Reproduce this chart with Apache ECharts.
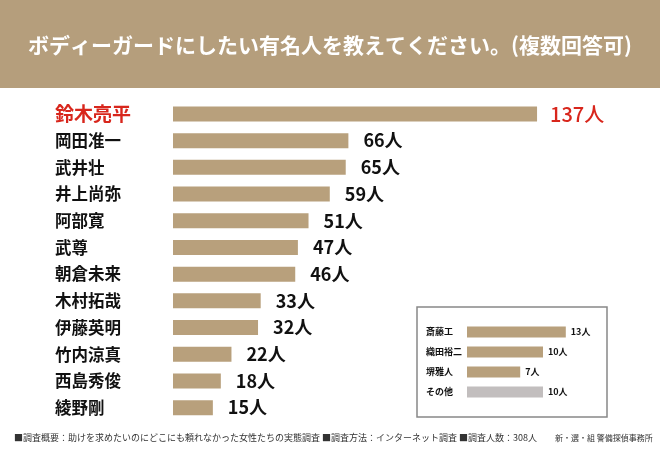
<!DOCTYPE html>
<html>
<head>
<meta charset="utf-8">
<script src="https://cdn.jsdelivr.net/npm/echarts@6/dist/echarts.min.js"></script>
<style>html,body{margin:0;padding:0;background:#fff}#c{width:660px;height:450px}</style>
</head>
<body>
<div id="c"></div>
<script>
var names = ['鈴木亮平','岡田准一','武井壮','井上尚弥','阿部寛','武尊','朝倉未来','木村拓哉','伊藤英明','竹内涼真','西島秀俊','綾野剛'];
var counts = [137,66,65,59,51,47,46,33,32,22,18,15];
var otherNames = ['斎藤工','織田裕二','堺雅人','その他'];
var otherCounts = [13,10,7,10];
var titleText = 'ボディーガードにしたい有名人を教えてください。(複数回答可)';
var footLeft = '■調査概要：助けを求めたいのにどこにも頼れなかった女性たちの実態調査 ■調査方法：インターネット調査 ■調査人数：308人';
var footRight = '新・選・組 警備探偵事務所';

var FONT = '"Noto Sans CJK JP", "Noto Sans", sans-serif';
var TAN = '#b8a07c';
var RED = '#d8261c';

var chart = echarts.init(document.getElementById('c'));
chart.setOption({
  backgroundColor: '#fff',
  animation: false,
  textStyle: { fontFamily: FONT },
  title: {
    text: titleText, left: 'center', top: 30,
    textStyle: { color: '#fff', fontSize: 21, fontWeight: 'bold', fontFamily: FONT }
  },
  graphic: [
    { type: 'rect', z: -10, shape: { x: 0, y: 0, width: 660, height: 88 }, style: { fill: '#b59e7c' } },
    { type: 'rect', shape: { x: 417, y: 307, width: 190, height: 110 }, style: { fill: 'none', stroke: '#888', lineWidth: 1.5 } },
    { type: 'text', x: 14, y: 438, style: { text: footLeft, fontSize: 9, fill: '#333', fontFamily: FONT, verticalAlign: 'middle' } },
    { type: 'text', x: 555, y: 438, style: { text: footRight, fontSize: 8, fill: '#333', fontFamily: FONT, verticalAlign: 'middle' } }
  ],
  grid: [
    { left: 173, top: 100.6, width: 398.6, height: 320.4 },
    { left: 467, top: 322, width: 152, height: 80 }
  ],
  xAxis: [
    { gridIndex: 0, type: 'value', min: 0, max: 150, show: false },
    { gridIndex: 1, type: 'value', min: 0, max: 20, show: false }
  ],
  yAxis: [
    {
      gridIndex: 0, type: 'category', data: names, inverse: true,
      axisLine: { show: false }, axisTick: { show: false },
      axisLabel: {
        align: 'left', margin: 118,
        formatter: function (v, i) { return i === 0 ? '{r|' + v + '}' : '{n|' + v + '}'; },
        rich: {
          r: { color: RED, fontSize: 19, fontWeight: 'bold', fontFamily: FONT },
          n: { color: '#111', fontSize: 16.5, fontWeight: 'bold', fontFamily: FONT }
        }
      }
    },
    {
      gridIndex: 1, type: 'category', data: otherNames, inverse: true,
      axisLine: { show: false }, axisTick: { show: false },
      axisLabel: { align: 'left', margin: 41, color: '#111', fontSize: 9, fontWeight: 'bold', fontFamily: FONT }
    }
  ],
  series: [
    {
      type: 'bar', xAxisIndex: 0, yAxisIndex: 0, barWidth: 15,
      data: counts.map(function (v, i) {
        var d = { value: v, itemStyle: { color: TAN } };
        if (i === 0) d.label = { color: RED, fontSize: 20, fontWeight: 500, distance: 13 };
        return d;
      }),
      label: {
        show: true, position: 'right', distance: 15, formatter: '{c}人',
        color: '#111', fontSize: 18, fontWeight: 'bold', fontFamily: FONT
      }
    },
    {
      type: 'bar', xAxisIndex: 1, yAxisIndex: 1, barWidth: 11,
      data: otherCounts.map(function (v, i) {
        return { value: v, itemStyle: { color: i === 3 ? '#c2bebe' : TAN } };
      }),
      label: {
        show: true, position: 'right', distance: 5, formatter: '{c}人',
        color: '#111', fontSize: 9, fontWeight: 'bold', fontFamily: FONT
      }
    }
  ]
});
</script>
</body>
</html>
